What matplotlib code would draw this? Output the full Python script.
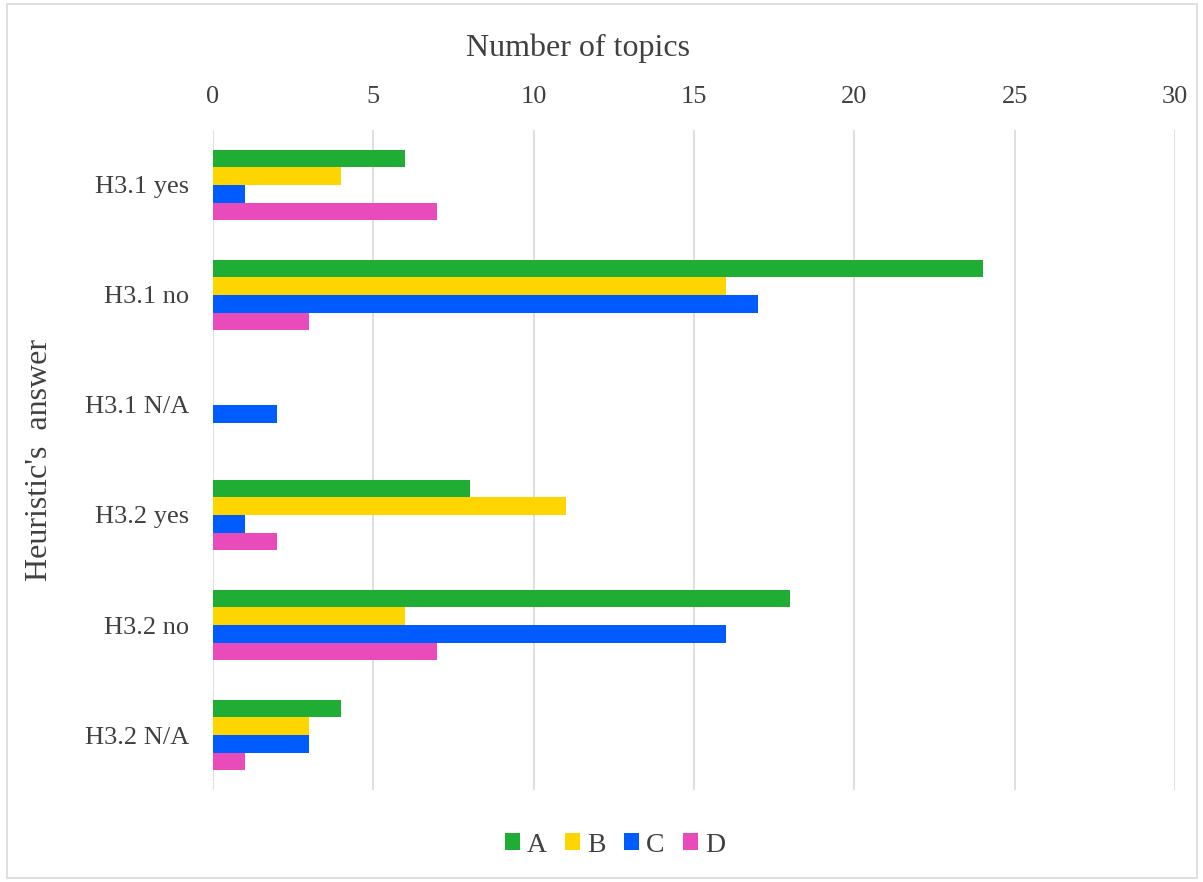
import matplotlib.pyplot as plt
import numpy as np
from matplotlib.patches import Rectangle

categories = ["H3.1 yes", "H3.1 no", "H3.1 N/A", "H3.2 yes", "H3.2 no", "H3.2 N/A"]
series_names = ["A", "B", "C", "D"]
A = [6, 24, 0, 8, 18, 4]
B = [4, 16, 0, 11, 6, 3]
C = [1, 17, 2, 1, 16, 3]
D = [7, 3, 0, 2, 7, 1]
colors = ["#1FAD33", "#FFD500", "#005CFF", "#EA4BBB"]
xticks = [0, 5, 10, 15, 20, 25, 30]

plt.rcParams['font.family'] = ['Liberation Serif', 'DejaVu Serif']
W, H = 1203, 882
fig = plt.figure(figsize=(W/100, H/100), dpi=100)
fig.patches.append(Rectangle((7/W, 4/H), 1190/W, 874/H, transform=fig.transFigure,
                             fill=False, edgecolor="#D9D9D9", linewidth=1.2))
ax = fig.add_axes([213/W, 1 - 790/H, (1175-213)/W, 660/H])

y = np.arange(len(categories))
bh = 0.16
data = [A, B, C, D]
for i, (name, vals, col) in enumerate(zip(series_names, data, colors)):
    ax.barh(y + (i - 1.5) * bh, vals, height=bh, color=col, label=name, zorder=3)

ax.set_ylim(len(categories) - 0.5, -0.5)
ax.set_xlim(0, 30)
ax.set_xticks(xticks)
ax.xaxis.tick_top()
ax.tick_params(axis='x', length=0, pad=16, labelsize=19, labelcolor="#404040")
ax.tick_params(axis='y', length=0, pad=17, labelsize=19, labelcolor="#404040")
ax.set_yticks(y)
ax.set_yticklabels(categories)
ax.grid(axis='x', color="#D9D9D9", linewidth=1.2, zorder=0)
for s in ax.spines.values():
    s.set_visible(False)

fig.text(578/W, 1 - 48/H, "Number of topics", fontsize=23, color="#404040",
         ha='center', va='center')
fig.text(40/W, 1 - 460/H, "Heuristic's  answer", rotation=90, fontsize=23,
         color="#404040", ha='center', va='center')

leg = fig.legend(loc='center', bbox_to_anchor=(615/W, 1 - 845/H), ncol=4, frameon=False,
                 fontsize=20, handlelength=0.55, handleheight=0.55, handletextpad=0.25,
                 columnspacing=0.65)
for t in leg.get_texts():
    t.set_color("#404040")

fig.savefig("out.png", dpi=100)
